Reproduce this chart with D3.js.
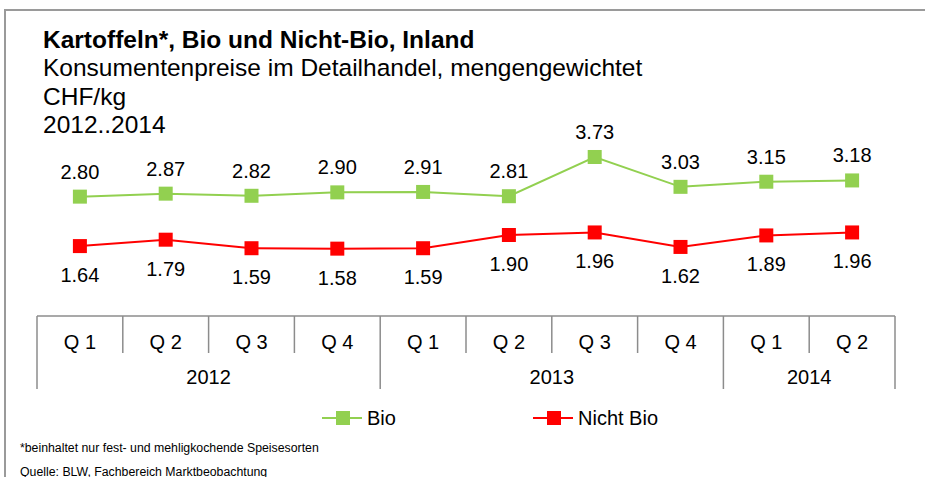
<!DOCTYPE html>
<html>
<head>
<meta charset="utf-8">
<script src="https://cdn.jsdelivr.net/npm/d3@7"></script>
<style>
  html, body { margin: 0; padding: 0; background: #fff; }
  svg { display: block; font-family: Arial, "Liberation Sans", sans-serif; }
</style>
</head>
<body>
<svg id="chart" width="925" height="477"></svg>
<script>
// Quarterly consumer prices for potatoes (CHF/kg)
const quarters = ["Q 1", "Q 2", "Q 3", "Q 4", "Q 1", "Q 2", "Q 3", "Q 4", "Q 1", "Q 2"];
const years = ["2012", "2012", "2012", "2012", "2013", "2013", "2013", "2013", "2014", "2014"];
const bio = [2.80, 2.87, 2.82, 2.90, 2.91, 2.81, 3.73, 3.03, 3.15, 3.18];
const nichtBio = [1.64, 1.79, 1.59, 1.58, 1.59, 1.90, 1.96, 1.62, 1.89, 1.96];
const seriesNames = ["Bio", "Nicht Bio"];
const titleLines = [
  "Kartoffeln*, Bio und Nicht-Bio, Inland",
  "Konsumentenpreise im Detailhandel, mengengewichtet",
  "CHF/kg",
  "2012..2014"
];
const footnotes = [
  "*beinhaltet nur fest- und mehligkochende Speisesorten",
  "Quelle: BLW, Fachbereich Marktbeobachtung"
];

const svg = d3.select("#chart");
const colors = { "Bio": "#92D050", "Nicht Bio": "#FF0000" };
const axisColor = "#8c8c8c";

// outer frame
svg.append("rect")
  .attr("x", 5).attr("y", 10)
  .attr("width", 940).attr("height", 490)
  .attr("fill", "none")
  .attr("stroke", "#9a9a9a")
  .attr("stroke-width", 2);

// titles
const titleY = [48, 76, 105, 133];
svg.selectAll("text.title")
  .data(titleLines)
  .join("text")
  .attr("class", "title")
  .attr("x", 43)
  .attr("y", (d, i) => titleY[i])
  .attr("font-size", 24.5)
  .attr("font-weight", (d, i) => i === 0 ? "bold" : "normal")
  .attr("fill", "#000")
  .text(d => d);

// scales
const x = d3.scaleBand().domain(d3.range(quarters.length)).range([37, 895]).padding(0);
const y = d3.scaleLinear().domain([0, 4]).range([316, 316 - 4 * 42.63]);
const cx = i => x(i) + x.bandwidth() / 2;

// category axis: quarters row and years row
const axisY = 316;
svg.append("line")
  .attr("x1", x.range()[0]).attr("x2", x.range()[1])
  .attr("y1", axisY).attr("y2", axisY)
  .attr("stroke", axisColor).attr("stroke-width", 1.5);

const boundaries = d3.range(quarters.length + 1);
svg.selectAll("line.tick")
  .data(boundaries)
  .join("line")
  .attr("class", "tick")
  .attr("x1", i => i < quarters.length ? x(i) : x.range()[1])
  .attr("x2", i => i < quarters.length ? x(i) : x.range()[1])
  .attr("y1", axisY)
  .attr("y2", i => (i === 0 || i === quarters.length || years[i] !== years[i - 1]) ? 389 : 353)
  .attr("stroke", axisColor).attr("stroke-width", 1.5);

svg.selectAll("text.quarter")
  .data(quarters)
  .join("text")
  .attr("class", "quarter")
  .attr("x", (d, i) => cx(i))
  .attr("y", 349)
  .attr("text-anchor", "middle")
  .attr("font-size", 20)
  .text(d => d);

const yearGroups = d3.groups(years.map((yr, i) => ({ yr, i })), d => d.yr);
svg.selectAll("text.year")
  .data(yearGroups)
  .join("text")
  .attr("class", "year")
  .attr("x", g => (x(g[1][0].i) + x(g[1][g[1].length - 1].i) + x.bandwidth()) / 2)
  .attr("y", 384)
  .attr("text-anchor", "middle")
  .attr("font-size", 20)
  .text(g => g[0]);

// series
const series = [
  { name: "Bio", values: bio, labelDy: -18 },
  { name: "Nicht Bio", values: nichtBio, labelDy: 36 }
];
const line = d3.line().x((d, i) => cx(i)).y(d => y(d));
const ms = 14;

series.forEach(s => {
  const g = svg.append("g");
  g.append("path")
    .attr("d", line(s.values))
    .attr("fill", "none")
    .attr("stroke", colors[s.name])
    .attr("stroke-width", 2);
  g.selectAll("rect")
    .data(s.values)
    .join("rect")
    .attr("x", (d, i) => cx(i) - ms / 2)
    .attr("y", d => y(d) - ms / 2)
    .attr("width", ms).attr("height", ms)
    .attr("fill", colors[s.name]);
  g.selectAll("text")
    .data(s.values)
    .join("text")
    .attr("x", (d, i) => cx(i))
    .attr("y", d => y(d) + s.labelDy)
    .attr("text-anchor", "middle")
    .attr("font-size", 20)
    .attr("fill", "#000")
    .text(d => d.toFixed(2));
});

// legend
const legendX = [322, 533];
const legendY = 418;
seriesNames.forEach((name, k) => {
  const g = svg.append("g").attr("transform", `translate(${legendX[k]},${legendY})`);
  g.append("line").attr("x1", 0).attr("x2", 40).attr("y1", 0).attr("y2", 0)
    .attr("stroke", colors[name]).attr("stroke-width", 2);
  g.append("rect").attr("x", 14).attr("y", -7).attr("width", 14).attr("height", 14)
    .attr("fill", colors[name]);
  g.append("text").attr("x", 45).attr("y", 7)
    .attr("font-size", 20).text(name);
});

// footnotes
svg.selectAll("text.foot")
  .data(footnotes)
  .join("text")
  .attr("class", "foot")
  .attr("x", 20)
  .attr("y", (d, i) => [452, 476][i])
  .attr("font-size", 12.3)
  .text(d => d);
</script>
</body>
</html>
